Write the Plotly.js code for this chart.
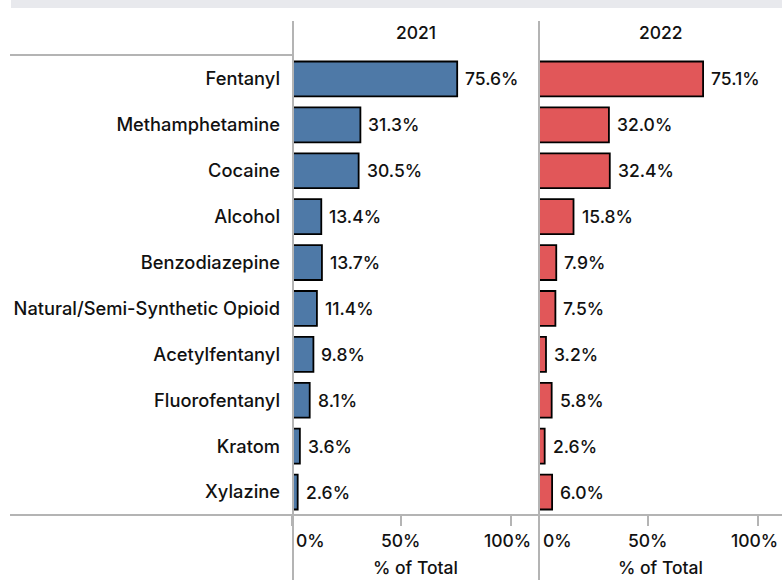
<!DOCTYPE html>
<html>
<head>
<meta charset="utf-8">
<script src="https://cdn.plot.ly/plotly-3.0.1.min.js"></script>
<style>html,body{margin:0;padding:0;background:#fff;}#chart{width:782px;height:580px;}</style>
</head>
<body>
<div id="chart"></div>
<script>
const drugs = ["Fentanyl","Methamphetamine","Cocaine","Alcohol","Benzodiazepine","Natural/Semi-Synthetic Opioid","Acetylfentanyl","Fluorofentanyl","Kratom","Xylazine"];
const years = ["2021","2022"];
const pct2021 = [75.6,31.3,30.5,13.4,13.7,11.4,9.8,8.1,3.6,2.6];
const pct2022 = [75.1,32.0,32.4,15.8,7.9,7.5,3.2,5.8,2.6,6.0];
const tickVals = [0,50,100];
const tickText = ["0%","50%","100%"];
const axisTitle = "% of Total";

const W = 782, H = 580;
const FONT = "Inter, 'Noto Sans', sans-serif";
const FS = 17.5;
const TXT = {family: FONT, size: FS, color: "#111", weight: 500};
const LBL = {family: FONT, size: 18.3, color: "#111", weight: 500};
const px = v => v / W;
const py = v => (H - v) / H;

const plotTop = 56, plotBot = 515;
const p1L = 292, p2L = 539;
const scale = 2.185; // px per percent

const colors = ["#4e79a7", "#e15759"];
const series = [pct2021, pct2022];

const traces = series.map((vals, i) => ({
  type: "bar",
  orientation: "h",
  y: drugs,
  x: vals,
  xaxis: i === 0 ? "x" : "x2",
  yaxis: i === 0 ? "y" : "y2",
  marker: {color: colors[i], line: {color: "#000", width: 1.8}},
  hoverinfo: "skip",
  showlegend: false
}));

const annotations = [];
series.forEach((vals, i) => {
  const xr = i === 0 ? "x" : "x2";
  const yr = i === 0 ? "y" : "y2";
  vals.forEach((v, j) => {
    annotations.push({xref: xr, yref: yr, x: v, y: drugs[j], text: v.toFixed(1) + "%",
      xanchor: "left", yanchor: "middle", xshift: 6, showarrow: false, font: TXT});
  });
  tickVals.forEach((t, k) => {
    const first = k === 0, last = k === tickVals.length - 1;
    annotations.push({xref: xr, yref: "paper", x: t, y: py(540), text: tickText[k],
      xanchor: first ? "left" : "center",
      xshift: first ? 2 : (last ? -3 : 0),
      yanchor: "middle", showarrow: false, font: TXT});
  });
  annotations.push({xref: xr + " domain", yref: "paper", x: 0.5, y: py(567), text: axisTitle,
    xanchor: "center", yanchor: "middle", showarrow: false, font: TXT});
  annotations.push({xref: xr + " domain", yref: "paper", x: 0.5, y: py(33), text: years[i],
    xanchor: "center", yanchor: "middle", showarrow: false, font: TXT});
});

const lineColor = "#b4b4b4";
const shapes = [
  {type: "rect", xref: "paper", yref: "paper", x0: px(11), x1: 1, y0: py(8), y1: 1, fillcolor: "#e8e9ed", line: {width: 0}, layer: "below"},
  {type: "line", xref: "paper", yref: "paper", x0: px(10), x1: px(293), y0: py(55), y1: py(55), line: {color: lineColor, width: 2}},
  {type: "line", xref: "paper", yref: "paper", x0: px(10), x1: 1, y0: py(515), y1: py(515), line: {color: lineColor, width: 2}},
  {type: "line", xref: "paper", yref: "paper", x0: px(293), x1: px(293), y0: 0, y1: py(21), line: {color: lineColor, width: 2}},
  {type: "line", xref: "paper", yref: "paper", x0: px(539), x1: px(539), y0: 0, y1: py(21), line: {color: lineColor, width: 2}}
];

const xCommon = {
  showgrid: false, zeroline: false, showline: false,
  tickvals: tickVals, showticklabels: false,
  ticks: "outside", ticklen: 10, tickwidth: 2, tickcolor: lineColor,
  fixedrange: true
};
const yCommon = {
  type: "category", autorange: "reversed", showgrid: false, zeroline: false, showline: false,
  ticks: "", domain: [py(plotBot), py(plotTop)], fixedrange: true
};

const layout = {
  width: W, height: H,
  margin: {l: 0, r: 0, t: 0, b: 0},
  paper_bgcolor: "#fff", plot_bgcolor: "rgba(0,0,0,0)",
  bargap: 0.24,
  font: TXT,
  xaxis: Object.assign({}, xCommon, {domain: [px(p1L), px(p2L)], range: [0, (p2L - p1L) / scale], anchor: "y"}),
  xaxis2: Object.assign({}, xCommon, {domain: [px(p2L), 1], range: [0, (W - p2L) / scale], anchor: "y2"}),
  yaxis: Object.assign({}, yCommon, {anchor: "x", ticklabelstandoff: 11, tickfont: LBL}),
  yaxis2: Object.assign({}, yCommon, {anchor: "x2", showticklabels: false, matches: "y"}),
  shapes: shapes,
  annotations: annotations
};

Plotly.newPlot("chart", traces, layout, {displayModeBar: false, staticPlot: true});
</script>
</body>
</html>
